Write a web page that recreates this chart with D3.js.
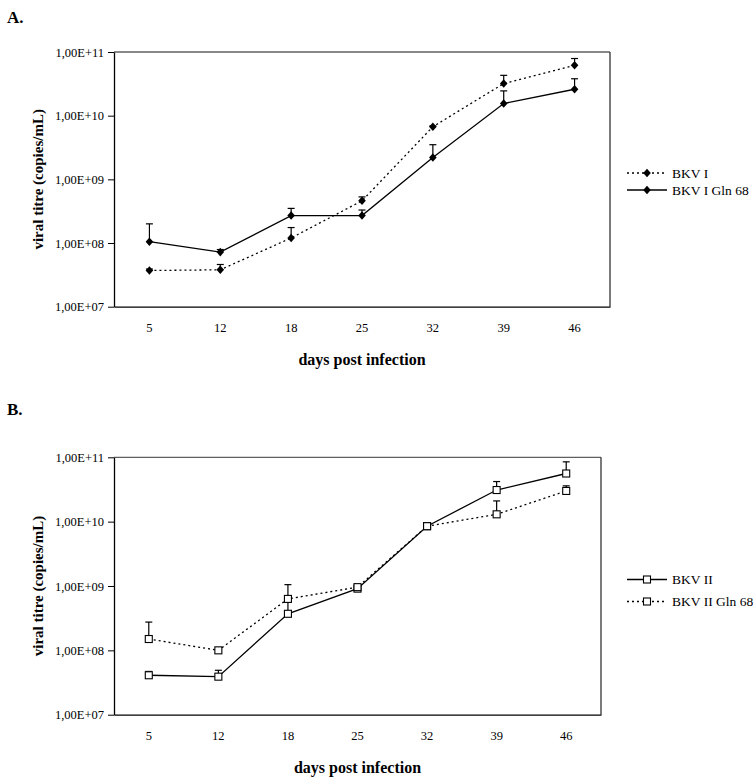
<!DOCTYPE html>
<html><head><meta charset="utf-8">
<script src="https://cdn.jsdelivr.net/npm/d3@7"></script>
<style>body{margin:0;background:#fff}svg{display:block}text{font-family:"Liberation Serif","Times New Roman",serif}</style>
</head><body><svg id="c" width="753" height="782"></svg>
<script>
const days = ["5","12","18","25","32","39","46"];
const yTickValues = [1e7,1e8,1e9,1e10,1e11];
const yTickLabels = ["1,00E+07","1,00E+08","1,00E+09","1,00E+10","1,00E+11"];

// Panel A
const bkvI      = [3.7e7, 3.8e7, 1.2e8, 4.6e8, 6.7e9, 3.2e10, 6.2e10];
const bkvIErr   = [3.9e7, 4.6e7, 1.75e8, 5.3e8, 6.9e9, 4.3e10, 7.9e10];
const bkvIGln   = [1.05e8, 7.2e7, 2.7e8, 2.7e8, 2.2e9, 1.55e10, 2.6e10];
const bkvIGlnErr= [2.0e8, 7.9e7, 3.5e8, 3.3e8, 3.5e9, 2.45e10, 3.8e10];

// Panel B
const bkvII       = [4.1e7, 3.9e7, 3.7e8, 9.1e8, 8.5e9, 3.1e10, 5.6e10];
const bkvIIErr    = [4.7e7, 4.9e7, 6.0e8, 9.3e8, 8.7e9, 4.2e10, 8.5e10];
const bkvIIGln    = [1.5e8, 1.0e8, 6.3e8, 9.6e8, 8.5e9, 1.3e10, 3.0e10];
const bkvIIGlnErr = [2.75e8, 1.02e8, 1.05e9, 1.0e9, 8.7e9, 2.1e10, 3.6e10];

const svg = d3.select("#c");

function panel(cfg){
  const g = svg.append("g").attr("transform",`translate(${cfg.left},${cfg.top})`);
  const x = d3.scaleBand().domain(days).range([0,cfg.w]);
  const y = d3.scaleLog().domain([1e7,1e11]).range([cfg.h,0]);
  g.append("line").attr("x1",0).attr("x2",cfg.w).attr("y1",0).attr("y2",0).attr("stroke","#606060").attr("stroke-width",1.3);
  g.append("line").attr("x1",cfg.w).attr("x2",cfg.w).attr("y1",0).attr("y2",cfg.h).attr("stroke","#333").attr("stroke-width",1.3);
  const ya = g.append("g").call(d3.axisLeft(y).tickValues(yTickValues).tickFormat((d,i)=>yTickLabels[i]).tickSize(6).tickSizeOuter(0));
  ya.select(".domain").attr("stroke","#000").attr("stroke-width",1.3);
  ya.selectAll(".tick line").attr("stroke","#000");
  ya.selectAll("text").attr("font-size",12.5).attr("fill","#000").attr("dx",-1);
  const xa = g.append("g").attr("transform",`translate(0,${cfg.h})`).call(d3.axisBottom(x).tickSize(0).tickSizeOuter(0));
  xa.select(".domain").attr("stroke","#000").attr("stroke-width",1.3);
  xa.selectAll("text").attr("font-size",12.5).attr("fill","#000").attr("dy","1.75em");
  g.append("text").attr("x",cfg.w/2).attr("y",cfg.h+58).attr("text-anchor","middle").attr("font-size",16).attr("font-weight","bold").text("days post infection");
  g.append("text").attr("transform",`translate(${-71},${cfg.h/2}) rotate(-90)`).attr("text-anchor","middle").attr("font-size",15).attr("font-weight","bold").text("viral titre (copies/mL)");
  const cx = d => x(d)+x.bandwidth()/2;
  const line = d3.line().x((d,i)=>cx(days[i])).y(d=>y(d));
  cfg.series.forEach(s=>{
    s.vals.forEach((v,i)=>{
      const e = s.err[i];
      g.append("line").attr("x1",cx(days[i])).attr("x2",cx(days[i])).attr("y1",y(v)).attr("y2",y(e)).attr("stroke","#000").attr("stroke-width",1.2);
      g.append("line").attr("x1",cx(days[i])-3.5).attr("x2",cx(days[i])+3.5).attr("y1",y(e)).attr("y2",y(e)).attr("stroke","#000").attr("stroke-width",1.2);
    });
  });
  cfg.series.forEach(s=>{
    g.append("path").attr("d",line(s.vals)).attr("fill","none").attr("stroke","#000").attr("stroke-width",1.3).attr("stroke-dasharray",s.dotted?"2,3":null);
  });
  const marker = (sel,s,px,py)=>{
    if(s.shape==="diamond"){
      sel.append("path").attr("d","M0,-4.3L3.8,0L0,4.3L-3.8,0Z").attr("transform",`translate(${px},${py})`).attr("fill","#000");
    } else {
      sel.append("rect").attr("x",px-3.5).attr("y",py-3.5).attr("width",7).attr("height",7).attr("fill","#fff").attr("stroke","#000").attr("stroke-width",1.1);
    }
  };
  cfg.series.forEach(s=>{
    s.vals.forEach((v,i)=>marker(g,s,cx(days[i]),y(v)));
  });
  cfg.series.forEach((s,k)=>{
    const ly = cfg.legY[k]-cfg.top;
    const lx0 = 627-cfg.left, lx1 = 667-cfg.left;
    g.append("line").attr("x1",lx0).attr("x2",lx1).attr("y1",ly).attr("y2",ly).attr("stroke","#000").attr("stroke-width",1.3).attr("stroke-dasharray",s.dotted?"2,3":null);
    marker(g,s,(lx0+lx1)/2,ly);
    g.append("text").attr("x",lx1+5).attr("y",ly+4.5).attr("font-size",13.5).text(s.name);
  });
}

svg.append("text").attr("x",7).attr("y",23).attr("font-size",17).attr("font-weight","bold").text("A.");
svg.append("text").attr("x",7).attr("y",415).attr("font-size",17).attr("font-weight","bold").text("B.");

panel({left:114, top:52, w:496, h:254.7, legY:[173,190],
  series:[
    {name:"BKV I", vals:bkvI, err:bkvIErr, dotted:true, shape:"diamond"},
    {name:"BKV I Gln 68", vals:bkvIGln, err:bkvIGlnErr, dotted:false, shape:"diamond"}
  ]});
panel({left:114, top:457.3, w:487, h:257.4, legY:[579.5,601.5],
  series:[
    {name:"BKV II", vals:bkvII, err:bkvIIErr, dotted:false, shape:"square"},
    {name:"BKV II Gln 68", vals:bkvIIGln, err:bkvIIGlnErr, dotted:true, shape:"square"}
  ]});
</script></body></html>
